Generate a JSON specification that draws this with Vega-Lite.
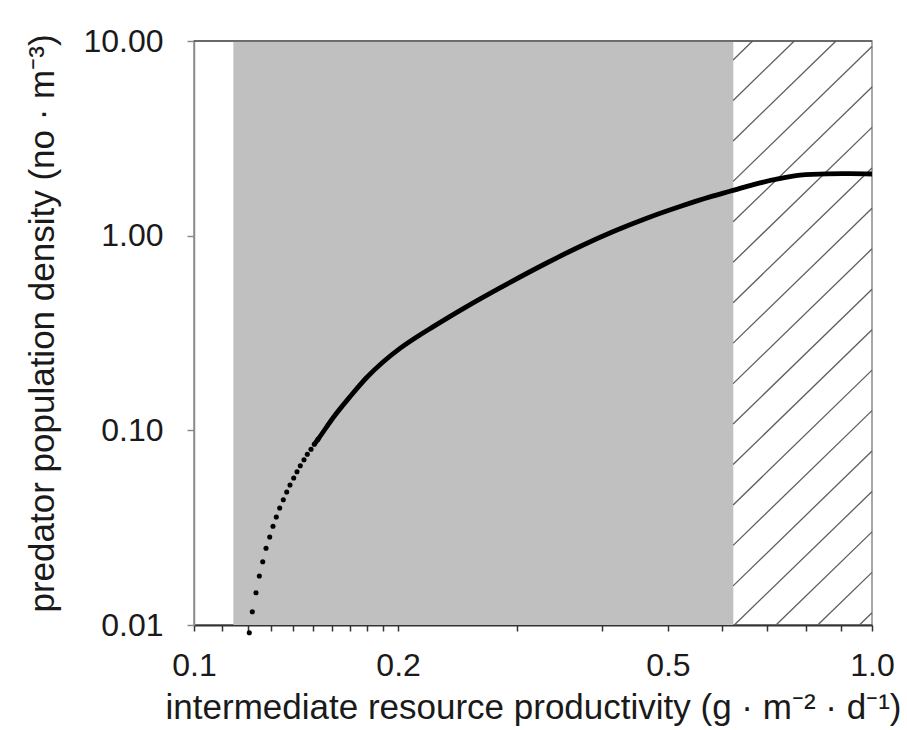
{
  "$schema": "https://vega.github.io/schema/vega-lite/v6.json",
  "width": 678,
  "height": 584,
  "autosize": "none",
  "padding": {"left": 194, "top": 41, "right": 35, "bottom": 105},
  "background": "white",
  "config": {
    "view": {"stroke": "#8c8c8c", "strokeWidth": 1.5},
    "font": "Liberation Sans",
    "axis": {"grid": false, "labelFont": "Liberation Sans", "titleFont": "Liberation Sans", "labelColor": "#1a1a1a", "titleColor": "#1a1a1a", "titleFontWeight": "normal", "labelOverlap": false, "labelBound": false, "labelFlush": false}
  },
  "datasets": {
    "region": [{"x": 0.1143, "x2": 0.6244, "y": 0.01, "y2": 10}],
    "hatch": [
      {"x": 0.624, "y": 7.986, "x2": 0.66664, "y2": 10},
      {"x": 0.624, "y": 4.949, "x2": 0.76807, "y2": 10},
      {"x": 0.624, "y": 3.067, "x2": 0.88492, "y2": 10},
      {"x": 0.624, "y": 1.901, "x2": 1.0, "y2": 9.369},
      {"x": 0.624, "y": 1.178, "x2": 1.0, "y2": 5.803},
      {"x": 0.624, "y": 0.7302, "x2": 1.0, "y2": 3.5985},
      {"x": 0.624, "y": 0.4525, "x2": 1.0, "y2": 2.2288},
      {"x": 0.624, "y": 0.28044, "x2": 1.0, "y2": 1.3821},
      {"x": 0.624, "y": 0.1738, "x2": 1.0, "y2": 0.8561},
      {"x": 0.624, "y": 0.10771, "x2": 1.0, "y2": 0.53085},
      {"x": 0.624, "y": 0.066753, "x2": 1.0, "y2": 0.3288},
      {"x": 0.624, "y": 0.041371, "x2": 1.0, "y2": 0.20389},
      {"x": 0.624, "y": 0.02564, "x2": 1.0, "y2": 0.12628},
      {"x": 0.624, "y": 0.01589, "x2": 1.0, "y2": 0.078311},
      {"x": 0.62647, "y": 0.01, "x2": 1.0, "y2": 0.048504},
      {"x": 0.72178, "y": 0.01, "x2": 1.0, "y2": 0.030078},
      {"x": 0.8316, "y": 0.01, "x2": 1.0, "y2": 0.01863},
      {"x": 0.95811, "y": 0.01, "x2": 1.0, "y2": 0.011552}
    ],
    "curve": [
      {"x": 0.12066, "y": 0.009129},
      {"x": 0.12190, "y": 0.011703},
      {"x": 0.12344, "y": 0.014655},
      {"x": 0.12484, "y": 0.017852},
      {"x": 0.12629, "y": 0.021145},
      {"x": 0.12771, "y": 0.024774},
      {"x": 0.12932, "y": 0.028314},
      {"x": 0.13077, "y": 0.032137},
      {"x": 0.13225, "y": 0.035884},
      {"x": 0.13378, "y": 0.039902},
      {"x": 0.13543, "y": 0.044025},
      {"x": 0.13700, "y": 0.048233},
      {"x": 0.13854, "y": 0.052384},
      {"x": 0.14030, "y": 0.056899},
      {"x": 0.14188, "y": 0.061306},
      {"x": 0.14348, "y": 0.065812},
      {"x": 0.14529, "y": 0.070649},
      {"x": 0.14693, "y": 0.075336},
      {"x": 0.14879, "y": 0.079891},
      {"x": 0.15046, "y": 0.084757},
      {"x": 0.15237, "y": 0.08994},
      {"x": 0.16049, "y": 0.11640},
      {"x": 0.16986, "y": 0.14884},
      {"x": 0.17977, "y": 0.18680},
      {"x": 0.19020, "y": 0.22519},
      {"x": 0.20129, "y": 0.26387},
      {"x": 0.21304, "y": 0.30195},
      {"x": 0.22540, "y": 0.34108},
      {"x": 0.25247, "y": 0.43211},
      {"x": 0.28270, "y": 0.53907},
      {"x": 0.33130, "y": 0.7237},
      {"x": 0.37095, "y": 0.87968},
      {"x": 0.41537, "y": 1.0504},
      {"x": 0.46527, "y": 1.2294},
      {"x": 0.52097, "y": 1.4119},
      {"x": 0.57684, "y": 1.5816},
      {"x": 0.61738, "y": 1.6899},
      {"x": 0.68360, "y": 1.8665},
      {"x": 0.72350, "y": 1.9500},
      {"x": 0.78310, "y": 2.0445},
      {"x": 0.85740, "y": 2.0763},
      {"x": 0.92800, "y": 2.0812},
      {"x": 1.0, "y": 2.0738}
    ],
    "frame": [{"x": 0.1, "x2": 1.0, "y": 10}]
  },
  "encoding": {
    "x": {
      "field": "x",
      "type": "quantitative",
      "scale": {"type": "log", "domain": [0.1, 1.0], "nice": false},
      "axis": {
        "title": "intermediate resource productivity (g · m⁻² · d⁻¹)",
        "values": [0.1, 0.11, 0.12, 0.13, 0.14, 0.15, 0.16, 0.17, 0.18, 0.19, 0.2, 0.3, 0.4, 0.5, 0.6, 0.7, 0.8, 0.9, 1],
        "labelExpr": "indexof([0.1, 0.2, 0.5, 1], datum.value) >= 0 ? format(datum.value, '.1f') : ''",
        "labelFontSize": 32,
        "labelPadding": 19,
        "tickSize": 6,
        "tickColor": "#333333",
        "tickWidth": 1.5,
        "domainColor": "#333333",
        "domainWidth": 2,
        "titleFontSize": 35,
        "titleBaseline": "alphabetic",
        "titleY": 93
      }
    },
    "y": {
      "field": "y",
      "type": "quantitative",
      "scale": {"type": "log", "domain": [0.01, 10], "nice": false},
      "axis": {
        "title": "predator population density (no · m⁻³)",
        "values": [0.01, 0.1, 1, 10],
        "format": ".2f",
        "labelFontSize": 32,
        "labelPadding": 24,
        "tickSize": 7,
        "tickColor": "#8c8c8c",
        "tickWidth": 1.5,
        "domainColor": "#8c8c8c",
        "domainWidth": 1.5,
        "titleFontSize": 35,
        "titleBaseline": "alphabetic",
        "titleX": -141,
        "titleY": 282
      }
    }
  },
  "layer": [
    {
      "data": {"name": "region"},
      "mark": {"type": "rect", "fill": "#c0c0c0"},
      "encoding": {"x2": {"field": "x2"}, "y2": {"field": "y2"}}
    },
    {
      "data": {"name": "hatch"},
      "mark": {"type": "rule", "stroke": "#5e5e5e", "strokeWidth": 1.3},
      "encoding": {"x2": {"field": "x2"}, "y2": {"field": "y2"}}
    },
    {
      "data": {"name": "frame"},
      "mark": {"type": "rule", "stroke": "#555555", "strokeWidth": 1.5},
      "encoding": {"x2": {"field": "x2"}}
    },
    {
      "data": {"name": "curve"},
      "transform": [{"filter": "datum.x >= 0.150"}],
      "mark": {"type": "line", "stroke": "#000000", "strokeWidth": 4.8, "interpolate": "monotone"},
      "encoding": {}
    },
    {
      "data": {"name": "curve"},
      "transform": [{"filter": "datum.x < 0.155"}],
      "mark": {"type": "circle", "fill": "#000000", "size": 26, "opacity": 1},
      "encoding": {}
    }
  ]
}
